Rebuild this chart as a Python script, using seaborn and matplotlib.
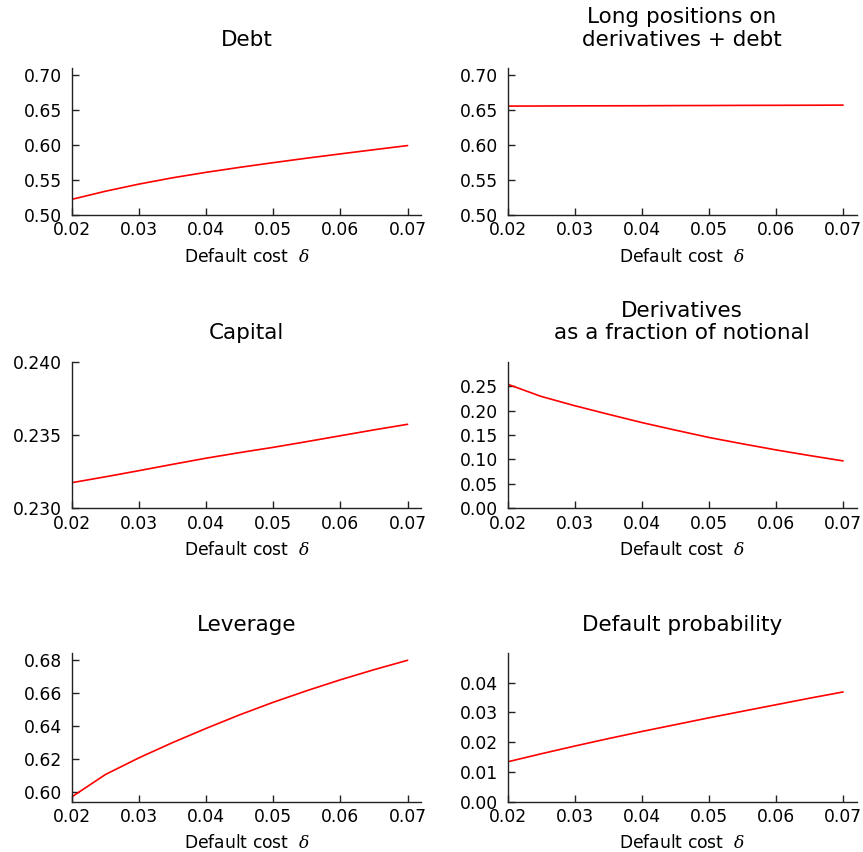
import matplotlib
matplotlib.use("Agg")
import matplotlib.pyplot as plt
import seaborn as sns
import numpy as np

delta = [0.02, 0.025, 0.03, 0.035, 0.04, 0.045, 0.05, 0.055, 0.06, 0.065, 0.07]

debt = [0.5224, 0.5340, 0.5442, 0.5532, 0.5610, 0.5681, 0.5748, 0.5812, 0.5873, 0.5933, 0.5992]
long_pos = [0.6556, 0.6557, 0.6559, 0.6560, 0.6561, 0.6563, 0.6564, 0.6566, 0.6567, 0.6568, 0.6570]
capital = [0.23175, 0.23215, 0.23257, 0.23300, 0.23342, 0.23380, 0.23416, 0.23455, 0.23495, 0.23535, 0.23573]
derivs = [0.2540, 0.2290, 0.2100, 0.1925, 0.1755, 0.1600, 0.1450, 0.1320, 0.1195, 0.1080, 0.0970]
leverage = [0.5970, 0.6105, 0.6206, 0.6298, 0.6384, 0.6466, 0.6542, 0.6612, 0.6678, 0.6739, 0.6796]
default_prob = [0.0134, 0.0161, 0.0187, 0.0212, 0.0236, 0.0259, 0.0282, 0.0304, 0.0326, 0.0348, 0.0369]

titles = ["Debt", "Long positions on\nderivatives + debt", "Capital",
          "Derivatives\nas a fraction of notional", "Leverage", "Default probability"]
series = [debt, long_pos, capital, derivs, leverage, default_prob]
ylims = [(0.50, 0.71), (0.50, 0.71), (0.230, 0.240), (0.0, 0.30), (0.594, 0.684), (0.0, 0.05)]
yticks = [
    [0.50, 0.55, 0.60, 0.65, 0.70],
    [0.50, 0.55, 0.60, 0.65, 0.70],
    [0.230, 0.235, 0.240],
    [0.00, 0.05, 0.10, 0.15, 0.20, 0.25],
    [0.60, 0.62, 0.64, 0.66, 0.68],
    [0.00, 0.01, 0.02, 0.03, 0.04],
]
ytick_fmt = ["{:.2f}", "{:.2f}", "{:.3f}", "{:.2f}", "{:.2f}", "{:.2f}"]
xticks = [0.02, 0.03, 0.04, 0.05, 0.06, 0.07]
xlabel = "Default cost  $\\delta$"

sns.set_style("ticks")
plt.rcParams["font.family"] = ["DejaVu Sans"]
plt.rcParams["mathtext.fontset"] = "dejavuserif"

W, H = 863, 852
fig = plt.figure(figsize=(W / 100, H / 100), dpi=100)

col_left = [72, 507.5]
col_w = 349
row_top = [68, 361.7, 653]
row_bot = [215, 508.3, 801.7]

for i in range(6):
    r, c = divmod(i, 2)
    l = col_left[c] / W
    b = 1 - row_bot[r] / H
    h = (row_bot[r] - row_top[r]) / H
    ax = fig.add_axes([l, b, col_w / W, h])
    sns.lineplot(x=delta, y=series[i], ax=ax, color="red", linewidth=1.2)
    ax.set_xlim(0.02, 0.0720)
    ax.set_ylim(*ylims[i])
    ax.set_xticks(xticks)
    ax.set_xticklabels(["{:.2f}".format(v) for v in xticks])
    ax.set_yticks(yticks[i])
    ax.set_yticklabels([ytick_fmt[i].format(v) for v in yticks[i]])
    for side in ["top", "right"]:
        ax.spines[side].set_visible(False)
    for side in ["left", "bottom"]:
        ax.spines[side].set_color("#222222")
        ax.spines[side].set_linewidth(1.0)
    ax.tick_params(axis="both", direction="in", length=5, width=1.0, color="#222222",
                   labelsize=12.3, labelcolor="black")
    ax.tick_params(axis="x", pad=4.5)
    ax.tick_params(axis="y", pad=7)
    ax.set_xlabel(xlabel, fontsize=12.3, labelpad=6, color="black")
    ax.set_ylabel("")
    ax.set_title(titles[i], fontsize=15.5, pad=16, linespacing=1.15, color="black")

fig.savefig("out.png", dpi=100)
